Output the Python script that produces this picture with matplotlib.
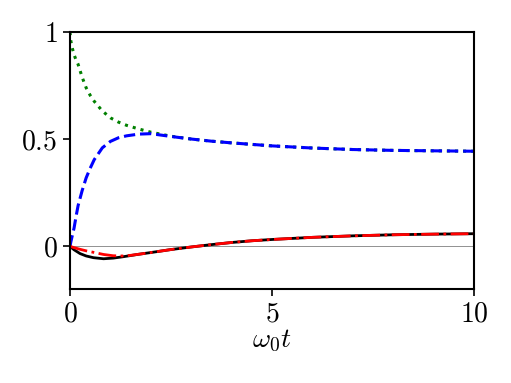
import numpy as np
import matplotlib
matplotlib.use('Agg')
import matplotlib.pyplot as plt

plt.rcParams['mathtext.fontset'] = 'cm'
plt.rcParams['font.family'] = 'serif'
plt.rcParams['font.serif'] = ['cmr10', 'DejaVu Serif']
plt.rcParams['axes.unicode_minus'] = False

# values
t_upper = [0, 0.02, 0.05, 0.1, 0.15, 0.2, 0.3, 0.4, 0.5, 0.6, 0.8, 1.0, 1.2, 1.4,
           1.7, 2.0, 2.5, 3.0, 3.5, 4, 5, 6, 7, 8, 9, 10]
green = [1.0, 0.96, 0.93, 0.895, 0.87, 0.85, 0.79, 0.74, 0.705, 0.677, 0.632, 0.600,
         0.580, 0.565, 0.548, 0.533, 0.514, 0.501, 0.491, 0.483, 0.469, 0.459,
         0.452, 0.448, 0.446, 0.444]
blue = [0.0, 0.02, 0.045, 0.085, 0.14, 0.19, 0.26, 0.32, 0.365, 0.405, 0.46, 0.49,
        0.507, 0.516, 0.524, 0.526, 0.513, 0.501, 0.491, 0.483, 0.469, 0.459,
        0.452, 0.448, 0.446, 0.444]

t_lower = [0, 0.1, 0.25, 0.4, 0.58, 0.83, 1.07, 1.3, 1.5, 1.7, 2.0, 2.5, 3.0, 3.5,
           4.0, 4.5, 5, 6, 7, 8, 9, 10]
black = [0.0, -0.016, -0.034, -0.045, -0.053, -0.058, -0.055, -0.049, -0.043,
         -0.037, -0.029, -0.015, -0.003, 0.008, 0.018, 0.026, 0.032, 0.042,
         0.049, 0.054, 0.057, 0.059]
red = [0.0, -0.006, -0.014, -0.021, -0.028, -0.038, -0.044, -0.045, -0.042,
       -0.037, -0.029, -0.015, -0.003, 0.008, 0.018, 0.026, 0.032, 0.042,
       0.049, 0.054, 0.057, 0.059]

xticks = [0, 5, 10]
xticklabels = ['$0$', '$5$', '$10$']
yticks = [0, 0.5, 1]
yticklabels = ['$0$', '$0.5$', '$1$']

fig = plt.figure(figsize=(5.11, 3.83), dpi=100)
ax = fig.add_axes([0.137, 0.245, 0.791, 0.671])

ax.axhline(0, color='gray', lw=0.6, zorder=1)
ax.plot(t_upper, green, color='green', ls=':', lw=2.2)
ax.plot(t_upper, blue, color='blue', ls='--', lw=2.2)
ax.plot(t_lower, black, color='black', ls='-', lw=2.0)
ax.plot(t_lower, red, color='red', ls='-.', lw=2.0)

ax.set_xlim(0, 10)
ax.set_ylim(-0.2, 1)
ax.set_xticks(xticks)
ax.set_xticklabels(xticklabels, fontsize=20)
ax.set_yticks(yticks)
ax.set_yticklabels(yticklabels, fontsize=20)
ax.tick_params(direction='out', length=5, width=1.2, pad=4)
for s in ax.spines.values():
    s.set_linewidth(1.5)
ax.set_xlabel(r'$\omega_0 t$', fontsize=20, labelpad=0)

fig.savefig('out.png', dpi=100)
